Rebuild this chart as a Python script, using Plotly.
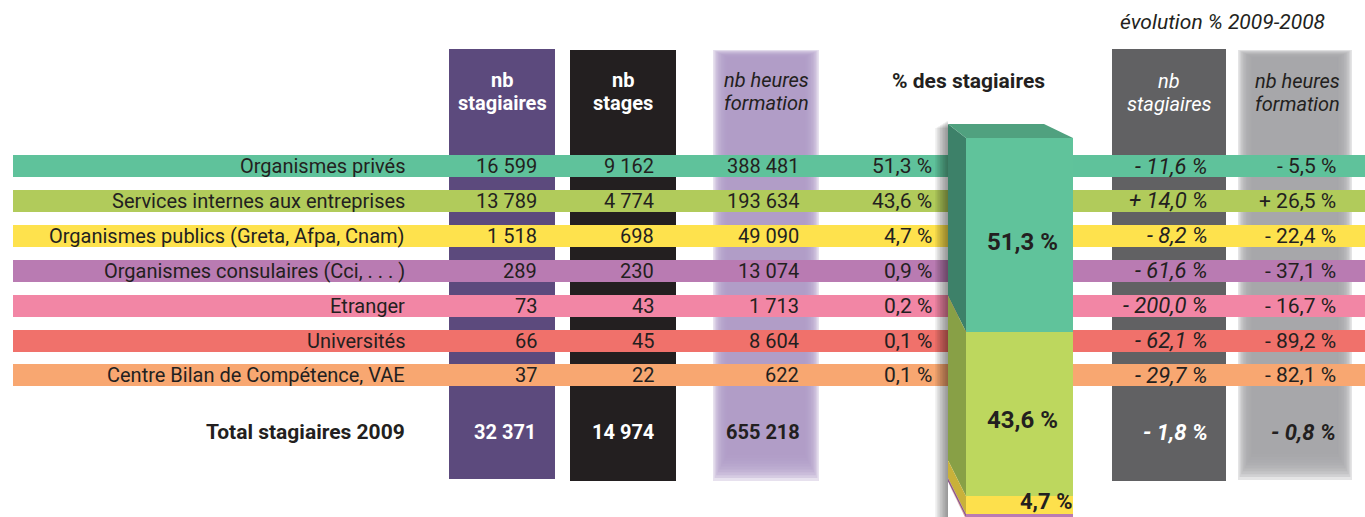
import plotly.graph_objects as go

# ---------------- data ----------------
categories = [
    "Organismes privés",
    "Services internes aux entreprises",
    "Organismes publics (Greta, Afpa, Cnam)",
    "Organismes consulaires (Cci, . . . )",
    "Etranger",
    "Universités",
    "Centre Bilan de Compétence, VAE",
]
nb_stagiaires = [16599, 13789, 1518, 289, 73, 66, 37]
nb_stages = [9162, 4774, 698, 230, 43, 45, 22]
nb_heures = [388481, 193634, 49090, 13074, 1713, 8604, 622]
pct_stagiaires = [51.3, 43.6, 4.7, 0.9, 0.2, 0.1, 0.1]
evol_stagiaires = [-11.6, 14.0, -8.2, -61.6, -200.0, -62.1, -29.7]
evol_heures = [-5.5, 26.5, -22.4, -37.1, -16.7, -89.2, -82.1]

total_label = "Total stagiaires 2009"
total_stagiaires = 32371
total_stages = 14974
total_heures = 655218
total_evol_stagiaires = -1.8
total_evol_heures = -0.8

col_headers = [("nb", "stagiaires"), ("nb", "stages"), ("nb heures", "formation")]
pct_header = "% des stagiaires"
evol_title = "évolution % 2009-2008"
evol_headers = [("nb", "stagiaires"), ("nb heures", "formation")]

# ---------------- styles ----------------
row_colors = ["#5fc29b", "#b1cb5b", "#fee24d", "#b97bb2", "#f286a5", "#f0716b", "#f8a771"]
front_colors = ["#60c39b", "#bdd75e", "#fde04c", "#b97bb2", "#f286a5", "#f0716b", "#f8a771"]
side_colors = ["#3d8169", "#88a046", "#c9b13a", "#8f5a8a", "#c06a82", "#c05a55", "#c8865a"]
top_color = "#50a17f"
DARK = "#231f20"
FONT = "Roboto"

W, H = 1365, 517
row_y0, row_step, row_h = 166, 34.9, 22
row_y = [row_y0 + i * row_step for i in range(len(categories))]
total_y = 432

# percent axis for the 3D column
zero_px, px_per_pct = 519.0, 3.776


def fr_int(v):
    return f"{v:,}".replace(",", " ")


def fr_pct(v):
    return f"{v:.1f}".replace(".", ",") + " %"


def fr_evol(v):
    sign = "-" if v < 0 else "+"
    return f"{sign} {abs(v):.1f}".replace(".", ",") + " %"


fig = go.Figure()

# row bands
fig.add_trace(go.Bar(
    orientation="h", y=row_y, x=[W - 13] * len(row_y), base=[13] * len(row_y),
    width=[row_h] * len(row_y), marker=dict(color=row_colors, line=dict(width=0)),
    hoverinfo="skip", showlegend=False))

# 3D stacked column (front face) on percent axis
bases = [sum(pct_stagiaires[i + 1:]) for i in range(len(pct_stagiaires))]
col_x0, col_x1, side_x = 966, 1073, 948
fig.add_trace(go.Bar(
    x=[(col_x0 + col_x1) / 2] * len(pct_stagiaires), y=pct_stagiaires, base=bases,
    width=[col_x1 - col_x0] * len(pct_stagiaires), yaxis="y2",
    marker=dict(color=front_colors, line=dict(width=0)),
    hoverinfo="skip", showlegend=False))

total_pct = sum(pct_stagiaires)
s_top = 14 / px_per_pct
s_in = 36 / px_per_pct
for i, p in enumerate(pct_stagiaires):
    t = bases[i] + p
    b = bases[i]
    st = s_top if i == 0 else s_in
    fig.add_trace(go.Scatter(
        x=[col_x0, side_x, side_x, col_x0, col_x0],
        y=[t, t + st, b + s_in, b, t],
        yaxis="y2", mode="lines", fill="toself", fillcolor=side_colors[i],
        line=dict(width=0), hoverinfo="skip", showlegend=False))
# top face
fig.add_trace(go.Scatter(
    x=[side_x, 1044, col_x1, col_x0, side_x],
    y=[total_pct + s_top, total_pct + s_top, total_pct, total_pct, total_pct + s_top],
    yaxis="y2", mode="lines", fill="toself", fillcolor=top_color,
    line=dict(width=0), hoverinfo="skip", showlegend=False))

shapes = []


def solid_box(x0, x1, y0, y1, color):
    shapes.append(dict(type="rect", xref="x", yref="y", x0=x0, x1=x1, y0=y0, y1=y1,
                       fillcolor=color, line=dict(width=0), layer="below"))


def blur_box(x0, x1, y0, y1, color, n=10, step=1.6, op=0.3, bottom_extra=1.8):
    for k in range(n):
        shapes.append(dict(type="rect", xref="x", yref="y",
                           x0=x0 + k * step, x1=x1 - k * step,
                           y0=y0 + k * step * 0.5, y1=y1 - k * step * bottom_extra,
                           fillcolor=color, opacity=op, line=dict(width=0), layer="below"))


solid_box(449, 555, 49, 479, "#5c4a7d")
solid_box(570, 676, 50, 481, DARK)
blur_box(713, 819, 50, 481, "#b09cc8")
solid_box(1112, 1226, 49, 481, "#616163")
blur_box(1238, 1352, 50, 480, "#a5a6aa")

# column shadow (left of the side face)
for k in range(8):
    shapes.append(dict(type="rect", xref="x", yref="y", x0=948 - 1.6 * (k + 1), x1=948,
                       y0=121 + k, y1=517, fillcolor="black", opacity=0.06,
                       line=dict(width=0), layer="above"))

ann = []


def txt(x, y, s, size=20, color=DARK, anchor="center", bold=False, italic=False, yref="y"):
    ann.append(dict(x=x, y=y, xref="x", yref=yref, text=s, showarrow=False,
                    xanchor=anchor, yanchor="middle",
                    font=dict(family=FONT, size=size, color=color,
                              weight="bold" if bold else "normal",
                              style="italic" if italic else "normal")))


# headers
hdr_cx = [502, 623, 766]
hdr_col = ["white", "white", DARK]
for (l1, l2), cx, c in zip(col_headers, hdr_cx, hdr_col):
    it = c == DARK
    txt(cx, 80, l1, size=20, color=c, bold=not it, italic=it)
    txt(cx, 103, l2, size=20, color=c, bold=not it, italic=it)
txt(968, 81, pct_header, size=21, bold=True)
txt(1222, 22, evol_title, size=21, italic=True)
evol_cx = [1169, 1297]
evol_col = ["white", DARK]
for (l1, l2), cx, c in zip(evol_headers, evol_cx, evol_col):
    txt(cx, 81, l1, size=20, color=c, italic=True)
    txt(cx, 104, l2, size=20, color=c, italic=True)

# rows
for i, y in enumerate(row_y):
    txt(407, y, categories[i], anchor="right")
    txt(539, y, fr_int(nb_stagiaires[i]), anchor="right")
    txt(656, y, fr_int(nb_stages[i]), anchor="right")
    txt(801, y, fr_int(nb_heures[i]), anchor="right")
    txt(934, y, fr_pct(pct_stagiaires[i]), size=21, anchor="right")
    txt(1210, y, fr_evol(evol_stagiaires[i]), size=22, anchor="right", italic=True)
    txt(1338, y, fr_evol(evol_heures[i]), size=21, anchor="right")

# totals
txt(407, total_y, total_label, size=21, anchor="right", bold=True)
txt(505, total_y, fr_int(total_stagiaires), size=20, color="white", bold=True)
txt(623, total_y, fr_int(total_stages), size=20, color="white", bold=True)
txt(763, total_y, fr_int(total_heures), size=20, bold=True)
txt(1210, total_y, fr_evol(total_evol_stagiaires), size=22, color="white", anchor="right", bold=True, italic=True)
txt(1338, total_y, fr_evol(total_evol_heures), size=22, anchor="right", bold=True, italic=True)

# labels on the column
for i in range(3):
    mid = bases[i] + pct_stagiaires[i] / 2
    off = [-7, -6, 4][i] / px_per_pct
    if i < 2:
        txt(1022, mid + off, fr_pct(pct_stagiaires[i]), size=24, bold=True, yref="y2")
    else:
        txt(1074, mid + off, fr_pct(pct_stagiaires[i]), size=22, bold=True,
            anchor="right", yref="y2")

fig.update_layout(
    width=W, height=H, margin=dict(l=0, r=0, t=0, b=0),
    paper_bgcolor="white", plot_bgcolor="white",
    barmode="overlay", bargap=0,
    xaxis=dict(range=[0, W], visible=False, fixedrange=True),
    yaxis=dict(range=[H, 0], visible=False, fixedrange=True),
    yaxis2=dict(range=[(zero_px - H) / px_per_pct, zero_px / px_per_pct],
                overlaying="y", visible=False, fixedrange=True),
    shapes=shapes, annotations=ann, showlegend=False,
)

fig.write_html("out.html", config={"displayModeBar": False},
               post_script="document.body.style.margin='0';document.body.style.overflow='hidden';")
